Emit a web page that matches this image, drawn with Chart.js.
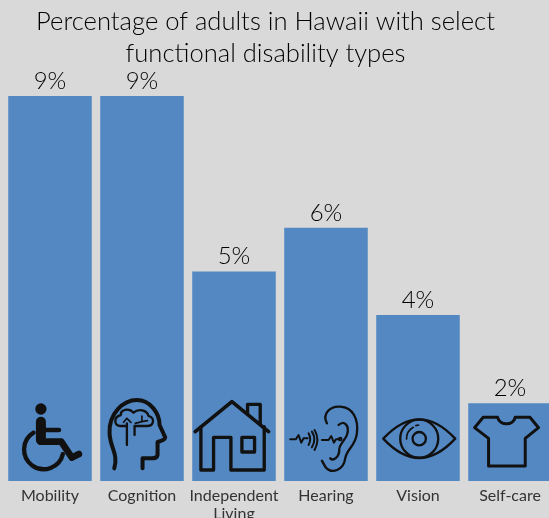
<!DOCTYPE html>
<html>
<head>
<meta charset="utf-8">
<title>Functional disability types in Hawaii</title>
<script src="https://cdn.jsdelivr.net/npm/chart.js@4/dist/chart.umd.min.js"></script>
<style>
  html, body { margin: 0; padding: 0; width: 549px; height: 518px; overflow: hidden; background: #d9d9d9; }
  canvas { position: absolute; left: -25px; top: 0; }
</style>
</head>
<body>
<canvas id="chart" width="581" height="518"></canvas>
<script>
const titleLines = ["Percentage of adults in Hawaii with select", "functional disability types"];
const categories = [["Mobility"], ["Cognition"], ["Independent", "Living"], ["Hearing"], ["Vision"], ["Self-care"]];
const percentages = [9, 9, 4.9, 5.92, 3.88, 1.82];
const iconNames = ["wheelchair", "head", "house", "ear", "eye", "shirt"];

const BAR_COLOR = "#5488c3";
const INK = "#000000";
const ICON_INK = "#111111";
const FONT = "Lato, sans-serif";

// icon outlines, traced at 3x. origin = left edge of the bar in x, y 273 = bottom of the bar
const icons = {
  wheelchair: {
    originX: 24,
    filled: ["M105 57a17 17 0 1 0 34 0a17 17 0 1 0 -34 0"],
    strokes: [
      [30, "M122 95V150"],
      [14, "M122 120H176"],
      [20, "M122 155H183L215 203L236 192"],
      [13, "M100 128A59 59 0 1 0 188 192"]
    ]
  },
  head: {
    originX: 300,
    strokes: [
      [12, "M342 235C355 190 330 175 328 130C325 70 370 30 410 30C450 30 478 70 478 105L495 142Q496 150 472 156V195Q470 205 455 205H427V235"],
      [7, "M380 165V100M403 135V108H440C462 108 465 84 445 78C440 60 415 55 400 68C385 52 360 60 362 75C340 80 340 106 360 108H380"],
      [5, "M380 85L370 97M380 85L392 97M425 78V95L405 100M425 95L442 92"]
    ]
  },
  house: {
    originX: 576,
    strokes: [
      [11, "M585 125L695 35L805 125"],
      [10, "M602 110V240H640V142H692V240H792V110"],
      [10, "M742 72V43H780V102"],
      [10, "M725 142H763V186H725Z"]
    ]
  },
  ear: {
    originX: 27,
    strokes: [
      [7, "M155 100C140 70 165 48 195 50C235 52 250 90 245 130C240 170 215 175 210 205C205 240 170 255 150 230L140 212"],
      [7, "M190 105C205 90 225 105 215 135C210 150 190 165 192 180C192 200 175 215 165 205"],
      [6, "M45 148H62L70 135L78 158L85 145H97"],
      [6, "M100 130Q110 148 100 165M110 125Q125 148 110 172M118 120Q135 148 118 180"],
      [6, "M140 150H160L168 138L176 158L182 148H190"],
      [6, "M191 147a4 4 0 1 0 8 0a4 4 0 1 0 -8 0"]
    ]
  },
  eye: {
    originX: 301,
    strokes: [
      [7, "M322 146Q430 30 538 146Q430 262 322 146Z"],
      [7, "M373 146a57 57 0 1 0 114 0a57 57 0 1 0 -114 0"],
      [7, "M410 146a20 20 0 1 0 40 0a20 20 0 1 0 -40 0"],
      [5, "M392 147A40 40 0 0 1 412 112M420 107L428 105"]
    ]
  },
  shirt: {
    originX: 577,
    strokes: [
      [9, "M665 82C672 108 712 108 718 82H762L788 113L748 145V228H638V145L596 113L622 82Z"]
    ]
  }
};

const barExtras = {
  id: "barExtras",
  afterDatasetsDraw(chart) {
    const ctx = chart.ctx;
    chart.getDatasetMeta(0).data.forEach((bar, i) => {
      // value label above the bar
      ctx.save();
      ctx.fillStyle = INK;
      ctx.font = "300 24px " + FONT;
      ctx.textAlign = "center";
      ctx.textBaseline = "alphabetic";
      ctx.fillText(Math.round(percentages[i]) + "%", bar.x, bar.y - 7);
      ctx.restore();

      // icon at the foot of the bar
      const icon = icons[iconNames[i]];
      ctx.save();
      ctx.translate(bar.x - bar.width / 2, bar.base);
      ctx.scale(1 / 3, 1 / 3);
      ctx.translate(-icon.originX, -273);
      ctx.strokeStyle = ICON_INK;
      ctx.fillStyle = ICON_INK;
      ctx.lineCap = "round";
      ctx.lineJoin = "round";
      (icon.filled || []).forEach(d => ctx.fill(new Path2D(d)));
      icon.strokes.forEach(([width, d]) => {
        ctx.lineWidth = width;
        ctx.stroke(new Path2D(d));
      });
      ctx.restore();
    });
  }
};

new Chart(document.getElementById("chart"), {
  type: "bar",
  data: {
    labels: categories,
    datasets: [{
      data: percentages,
      backgroundColor: BAR_COLOR,
      borderWidth: 0,
      barPercentage: 0.908,
      categoryPercentage: 1
    }]
  },
  options: {
    responsive: false,
    animation: false,
    plugins: {
      legend: { display: false },
      tooltip: { enabled: false },
      title: {
        display: true,
        text: titleLines,
        color: INK,
        font: { family: FONT, size: 25.6, lineHeight: 1.24, weight: "300" },
        padding: { top: 6, bottom: 26.5 }
      }
    },
    scales: {
      x: {
        grid: { display: false, drawTicks: false },
        border: { display: false },
        ticks: {
          color: "#333333",
          font: { family: FONT, size: 16, lineHeight: 1.1, weight: "400" },
          padding: 6,
          autoSkip: false,
          maxRotation: 0
        },
        afterFit(scale) { scale.height = 37; }
      },
      y: {
        min: 0,
        max: 9,
        grid: { display: false },
        border: { display: false },
        ticks: { display: false },
        afterFit(scale) { scale.width = 29; }
      }
    }
  },
  plugins: [barExtras]
});
</script>
</body>
</html>
